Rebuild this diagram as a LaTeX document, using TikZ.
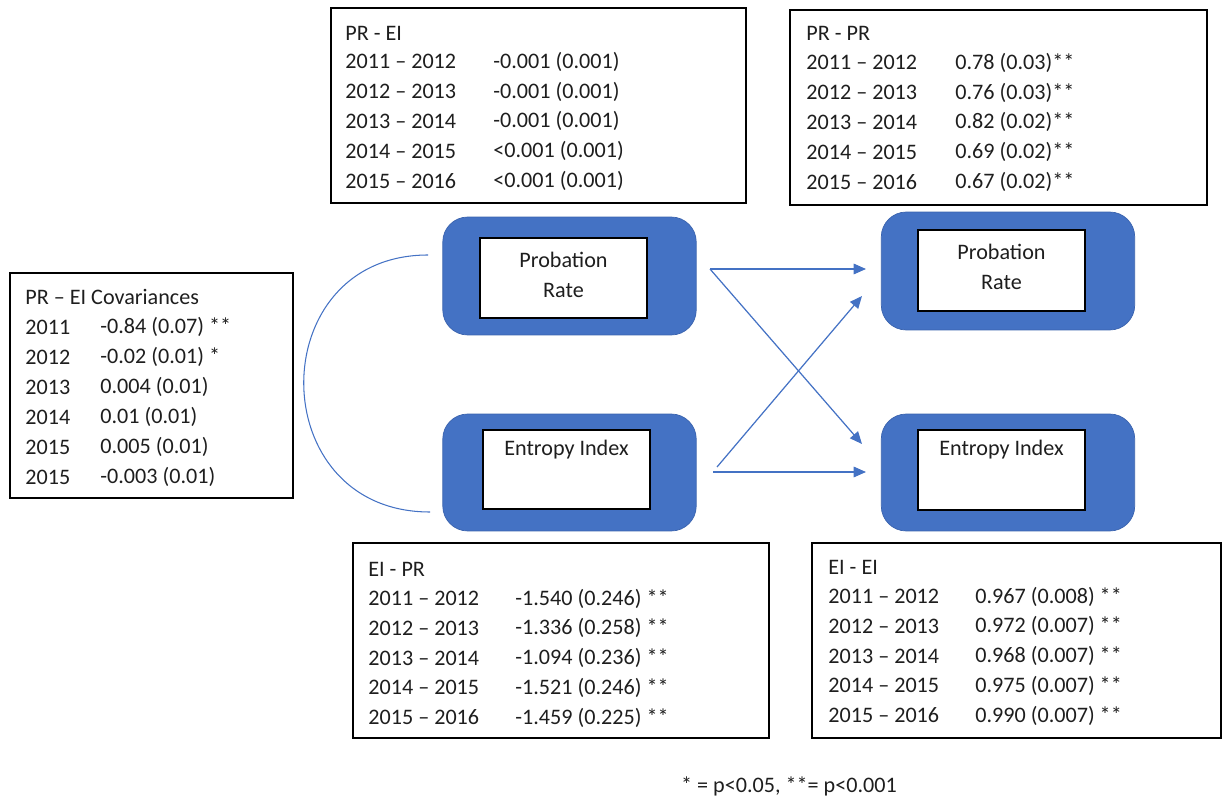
\documentclass[tikz,border=0pt]{standalone}
\usepackage{fontspec}
\setmainfont{Carlito}
\usetikzlibrary{arrows.meta, positioning}
\definecolor{officeblue}{HTML}{4472C4}
\definecolor{edgeblue}{HTML}{3A63AE}
\definecolor{txtgray}{HTML}{1E1E1E}

\begin{document}
\begin{tikzpicture}[
    x=0.02cm, y=-0.02cm,
    txt/.style={anchor=west, inner sep=0pt, font=\fontsize{12.6}{14}\selectfont, text=txtgray},
    tblbox/.style={draw, rectangle, line width=0.7pt, inner sep=0pt},
    outer/.style={draw=edgeblue, fill=officeblue, rectangle, rounded corners=0.5cm, line width=0.4pt, minimum width=5.07cm, inner sep=0pt},
    inner/.style={draw, fill=white, rectangle, line width=0.7pt, minimum width=3.34cm, minimum height=1.6cm, inner sep=0pt},
    arrow/.style={-{Triangle[length=7pt, width=6pt]}, draw=officeblue, line width=0.7pt},
]
\useasboundingbox (0,0) rectangle (1223,800);

% === TABLE BOXES ===
\node[tblbox, minimum width=8.3cm, minimum height=3.9cm] (prei) at (538.5,105.5) {};
\node[tblbox, minimum width=8.34cm, minimum height=3.9cm] (prpr) at (998.5,107.5) {};
\node[tblbox, minimum width=5.66cm, minimum height=4.5cm] (cov) at (151.5,385.5) {};
\node[tblbox, minimum width=8.32cm, minimum height=3.9cm] (eipr) at (561,640.5) {};
\node[tblbox, minimum width=8.18cm, minimum height=3.9cm] (eiei) at (1016.5,640.5) {};

% PR - EI
\node[txt] (prei-t) at (345,33) {PR - EI};
\foreach \yr/\val [count=\i] in {2011 – 2012/-0.001 (0.001), 2012 – 2013/-0.001 (0.001),
    2013 – 2014/-0.001 (0.001), 2014 – 2015/<0.001 (0.001), 2015 – 2016/<0.001 (0.001)} {
  \node[txt] (prei-y\i) at (345,32+29.8*\i) {\yr};
  \node[txt] (prei-v\i) at (493,32+29.8*\i) {\val};
}

% PR - PR
\node[txt] (prpr-t) at (806,33) {PR - PR};
\foreach \yr/\val [count=\i] in {2011 – 2012/0.78 (0.03)**, 2012 – 2013/0.76 (0.03)**,
    2013 – 2014/0.82 (0.02)**, 2014 – 2015/0.69 (0.02)**, 2015 – 2016/0.67 (0.02)**} {
  \node[txt] (prpr-y\i) at (806,33+29.8*\i) {\yr};
  \node[txt] (prpr-v\i) at (955,33+29.8*\i) {\val};
}

% PR - EI covariances
\node[txt] (cov-t) at (25,297) {PR – EI Covariances};
\foreach \yr/\val [count=\i] in {2011/-0.84 (0.07) **, 2012/-0.02 (0.01) *, 2013/0.004 (0.01),
    2014/0.01 (0.01), 2015/0.005 (0.01), 2015/-0.003 (0.01)} {
  \node[txt] (cov-y\i) at (25,297+30*\i) {\yr};
  \node[txt] (cov-v\i) at (100,297+30*\i) {\val};
}

% EI - PR
\node[txt] (eipr-t) at (368,569) {EI - PR};
\foreach \yr/\val [count=\i] in {2011 – 2012/-1.540 (0.246) **, 2012 – 2013/-1.336 (0.258) **,
    2013 – 2014/-1.094 (0.236) **, 2014 – 2015/-1.521 (0.246) **, 2015 – 2016/-1.459 (0.225) **} {
  \node[txt] (eipr-y\i) at (368,569+29.7*\i) {\yr};
  \node[txt] (eipr-v\i) at (515,569+29.7*\i) {\val};
}

% EI - EI
\node[txt] (eiei-t) at (828,567) {EI - EI};
\foreach \yr/\val [count=\i] in {2011 – 2012/0.967 (0.008) **, 2012 – 2013/0.972 (0.007) **,
    2013 – 2014/0.968 (0.007) **, 2014 – 2015/0.975 (0.007) **, 2015 – 2016/0.990 (0.007) **} {
  \node[txt] (eiei-y\i) at (828,567+29.7*\i) {\yr};
  \node[txt] (eiei-v\i) at (975,567+29.7*\i) {\val};
}

% === VARIABLE BOXES ===
\node[outer, minimum height=2.36cm] (prL) at (569.5,276) {};
\node[inner] (prL-in) at (563.5,278) {};
\node[txt, anchor=center, align=center] (prL-lbl) at (563.5,275) {Probation\\[3pt]Rate};

\node[outer, minimum height=2.34cm] (eiL) at (569.5,472.5) {};
\node[inner, minimum height=1.58cm] (eiL-in) at (566.5,469.5) {};
\node[txt, anchor=center] (eiL-lbl) at (566.5,450) {Entropy Index};

\node[outer, minimum height=2.36cm] (prR) at (1008,271) {};
\node[inner, minimum height=1.62cm] (prR-in) at (1001.5,270.5) {};
\node[txt, anchor=center, align=center] (prR-lbl) at (1001.5,267) {Probation\\[3pt]Rate};

\node[outer, minimum height=2.34cm] (eiR) at (1008,472.5) {};
\node[inner] (eiR-in) at (1001.5,470) {};
\node[txt, anchor=center] (eiR-lbl) at (1001.5,450) {Entropy Index};

% Connector ends
\coordinate (prL-out) at (710,269);
\coordinate (eiL-out1) at (717,467);
\coordinate (eiL-out2) at (713,472);
\coordinate (prR-in1) at (866,269);
\coordinate (prR-in2) at (862,296);
\coordinate (eiR-in1) at (862,444);
\coordinate (eiR-in2) at (866,472);
\coordinate (cov-top) at (428,255);
\coordinate (cov-bot) at (430,512);

% Paths
\draw[arrow] (prL-out) -- (prR-in1);
\draw[arrow] (prL-out) -- (eiR-in1);
\draw[arrow] (eiL-out1) -- (prR-in2);
\draw[arrow] (eiL-out2) -- (eiR-in2);

% Covariance curve
\draw[officeblue, line width=0.6pt] (cov-top) .. controls (262,255) and (262,512) .. (cov-bot);

% Footnote
\node[txt, anchor=center] (note) at (789,786) {* = p<0.05, **= p<0.001};

\end{tikzpicture}
\end{document}
